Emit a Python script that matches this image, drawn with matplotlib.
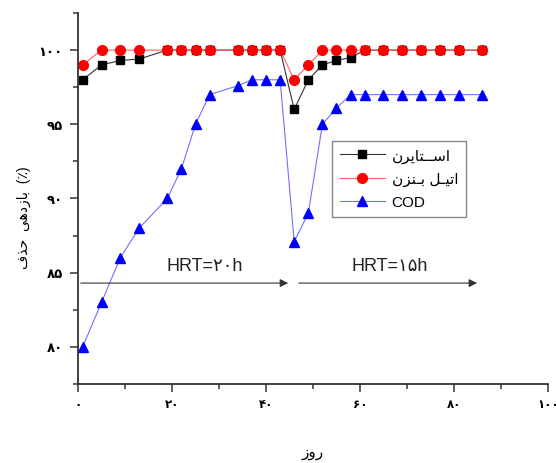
import matplotlib
matplotlib.use("Agg")
import matplotlib.pyplot as plt
from matplotlib.ticker import MultipleLocator

plt.rcParams['font.family'] = ['Liberation Sans', 'DejaVu Sans']

# روز / بازدهی حذف
days = [1, 5, 9, 13, 19, 22, 25, 28, 34, 37, 40, 43,
        46, 49, 52, 55, 58, 61, 65, 69, 73, 77, 81, 86]
styrene = [98.0, 99.0, 99.3, 99.4, 100, 100, 100, 100, 100, 100, 100, 100,
           96.0, 98.0, 99.0, 99.3, 99.5, 100, 100, 100, 100, 100, 100, 100]
ethylbenzene = [99.0, 100, 100, 100, 100, 100, 100, 100, 100, 100, 100, 100,
                98.0, 99.0, 100, 100, 100, 100, 100, 100, 100, 100, 100, 100]
cod = [80, 83, 86, 88, 90, 92, 95, 97, 97.6, 98, 98, 98,
       87.1, 89, 95, 96.1, 97, 97, 97, 97, 97, 97, 97, 97]

xticks = [0, 20, 40, 60, 80, 100]
xticklabels = ['\u06f0', '\u06f2\u06f0', '\u06f4\u06f0', '\u06f6\u06f0', '\u06f8\u06f0', '\u06f1\u06f0\u06f0']
yticks = [80, 85, 90, 95, 100]
yticklabels = ['\u06f8\u06f0', '\u06f8\u06f5', '\u06f9\u06f0', '\u06f9\u06f5', '\u06f1\u06f0\u06f0']

# متن فارسی به صورت شکل های نمایشی و ترتیب دیداری
lbl_styrene = '\ufee5\ufeae\ufef3\ufe8e\ufe98\u0640\u0640\ufeb3\ufe8d'
lbl_ethyl = '\ufee5\ufeb0\ufee8\u0640\ufe91 \ufede\u0640\ufef4\ufe97\ufe8d'
lbl_cod = 'COD'
ylabel = '\ufed1\ufeac\ufea3  \ufef0\ufeeb\ufea9\ufeaf\ufe8e\ufe91  (\u066a)'
xlabel = '\ufeaf\ufeed\ufead'
hrt1 = 'HRT=\u06f2\u06f0h'
hrt2 = 'HRT=\u06f1\u06f5h'

fig = plt.figure(figsize=(5.56, 4.64), dpi=100)
ax = fig.add_axes([0.1403, 0.1703, 0.8453, 0.7995])

ax.plot(days, styrene, '-s', color='#333333', lw=0.8, ms=6,
        mfc='black', mec='black', label=lbl_styrene)
ax.plot(days, ethylbenzene, '-o', color='#ff6060', lw=0.8, ms=7,
        mfc='red', mec='red', label=lbl_ethyl)
ax.plot(days, cod, '-^', color='#7070ff', lw=0.8, ms=7,
        mfc='blue', mec='blue', label=lbl_cod)

# فلش های HRT
ax.annotate('', xy=(45.3, 84.3), xytext=(0, 84.3),
            arrowprops=dict(arrowstyle='-|>', color='#333333', lw=0.8, mutation_scale=12))
ax.annotate('', xy=(85.5, 84.3), xytext=(46.4, 84.3),
            arrowprops=dict(arrowstyle='-|>', color='#333333', lw=0.8, mutation_scale=12))
ax.text(27, 85.5, hrt1, fontsize=13, ha='center', va='center', color='#222222')
ax.text(66.4, 85.5, hrt2, fontsize=13, ha='center', va='center', color='#222222')

ax.set_xlim(0, 100)
ax.set_ylim(77.5, 102.5)
ax.set_xticks(xticks)
ax.set_xticklabels(xticklabels, fontsize=8.5, fontweight='bold')
ax.set_yticks(yticks)
ax.set_yticklabels(yticklabels, fontsize=9.5, fontweight='bold')
ax.xaxis.set_minor_locator(MultipleLocator(10))
ax.yaxis.set_minor_locator(MultipleLocator(2.5))
ax.tick_params(which='major', direction='out', length=6, width=1.1, color='#333333', pad=5)
ax.tick_params(axis='x', which='major', pad=4)
ax.tick_params(which='minor', direction='out', length=3.5, width=1.1, color='#333333')

for s in ['top', 'right']:
    ax.spines[s].set_visible(False)
for s in ['left', 'bottom']:
    ax.spines[s].set_linewidth(1.3)
    ax.spines[s].set_color('#333333')

ax.set_xlabel(xlabel, fontsize=11)
ax.xaxis.set_label_coords(0.5, -0.165)
ax.set_ylabel(ylabel, fontsize=10)
ax.yaxis.set_label_coords(-0.1, 0.45)

leg = ax.legend(loc='upper left', bbox_to_anchor=(0.597, 0.694),
                bbox_transform=fig.transFigure, borderaxespad=0,
                fancybox=False, edgecolor='#888888', fontsize=11,
                handlelength=3.0, handletextpad=0.4, labelspacing=0.6,
                borderpad=0.5, framealpha=1)
leg.get_frame().set_linewidth(1.0)

fig.savefig('out.png', dpi=100)
